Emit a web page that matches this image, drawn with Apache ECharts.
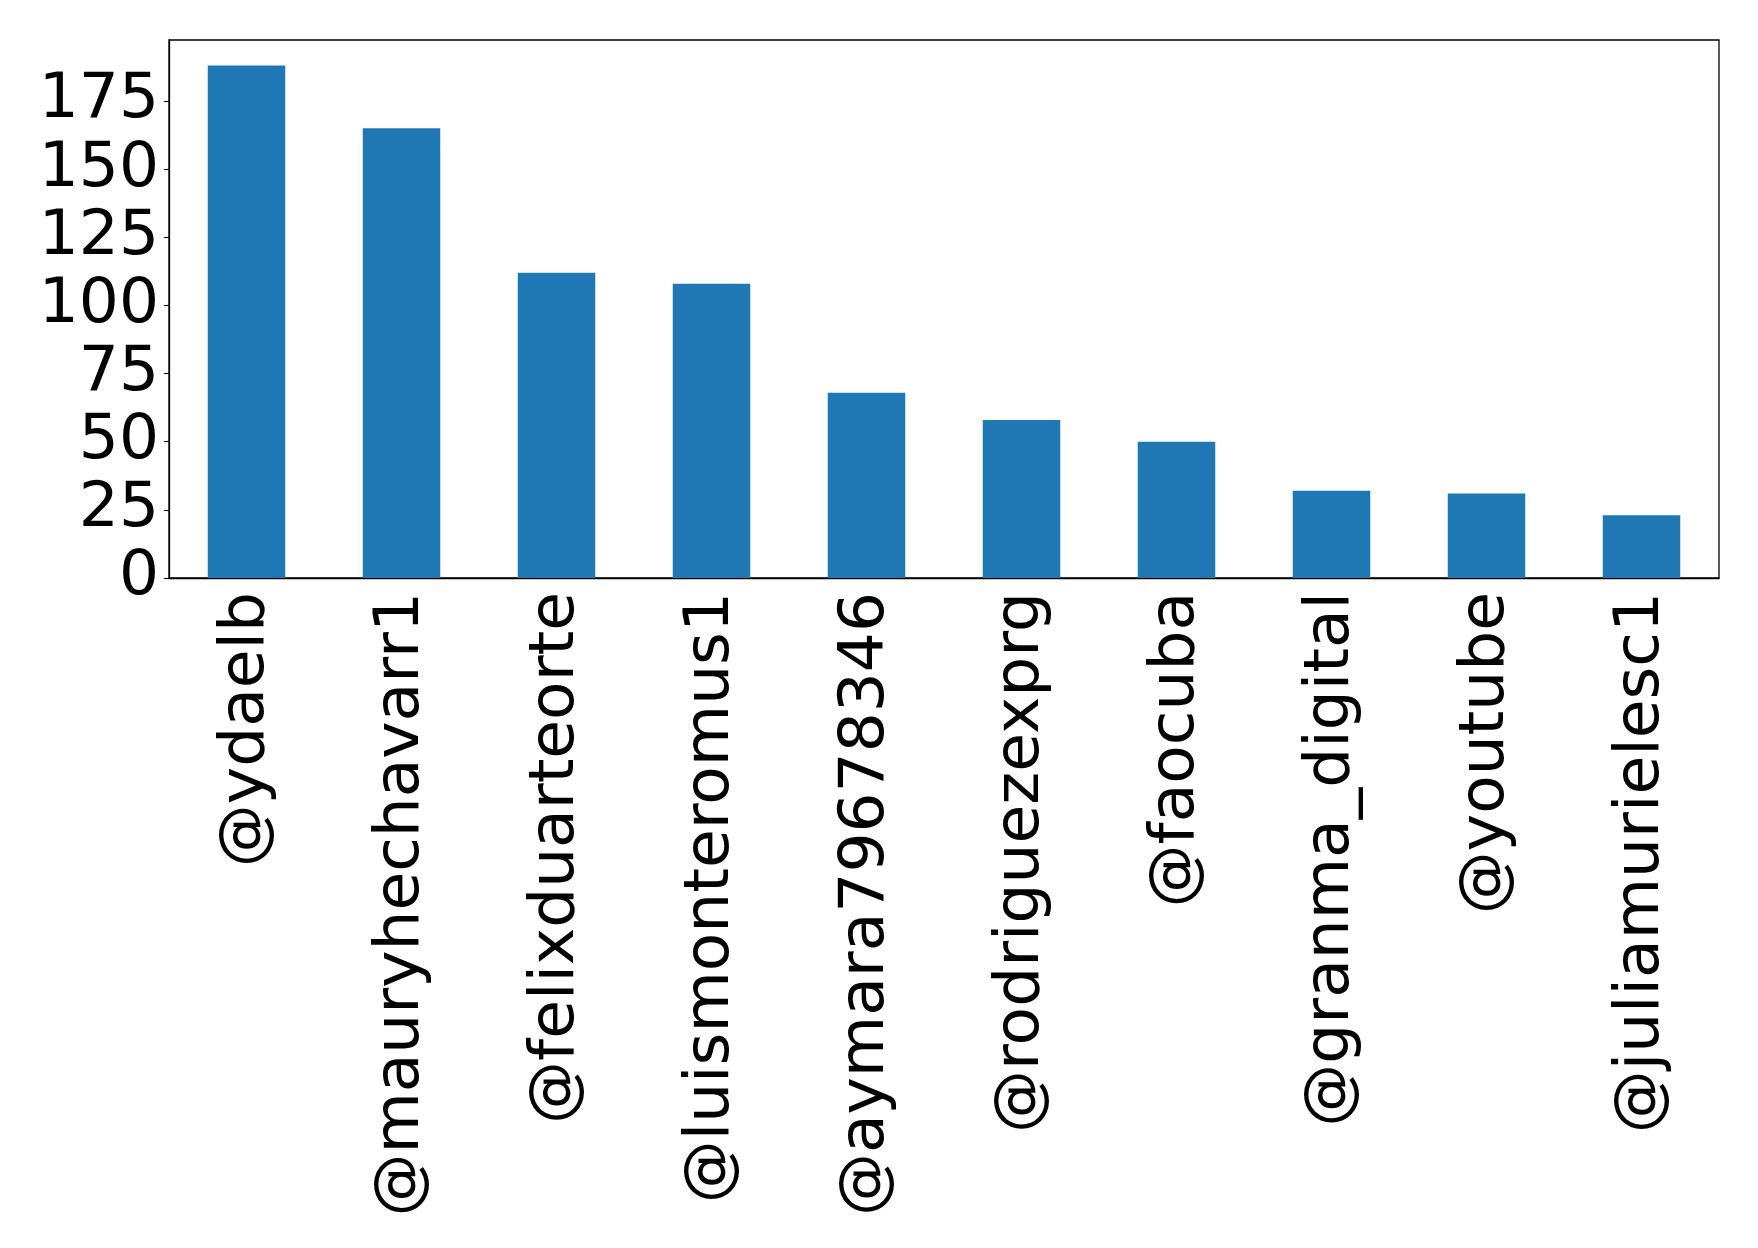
<!DOCTYPE html>
<html>
<head>
<meta charset="utf-8">
<script src="https://cdn.jsdelivr.net/npm/echarts@6/dist/echarts.min.js"></script>
<style>
html,body{margin:0;padding:0;background:#fff;}
#main{width:1758px;height:1248px;}
</style>
</head>
<body>
<div id="main"></div>
<script>
var users = ['@ydaelb', '@mauryhechavarr1', '@felixduarteorte', '@luismonteromus1', '@aymara79678346',
	'@rodriguezexprg', '@faocuba', '@granma_digital', '@youtube', '@juliamurielesc1'];
var counts = [188, 165, 112, 108, 68, 58, 50, 32, 31, 23];
var yTicks = [0, 25, 50, 75, 100, 125, 150, 175];

function init(){
	var myChart = echarts.init(document.getElementById("main"));
	var option = {
		animation: false,
		textStyle: {fontFamily: 'DejaVu Sans'},
		grid: {
			left: 169, right: 39, top: 40, bottom: 670,
			show: true,
			borderColor: '#000',
			borderWidth: 1.3
		},
		xAxis: {
			type: 'category',
			data: users,
			axisLine: {lineStyle: {color: '#000', width: 1.3}},
			axisTick: {alignWithLabel: true, length: 5, lineStyle: {color: '#000', width: 1.1}},
			axisLabel: {
				rotate: 90,
				margin: 14,
				interval: 0,
				color: '#000',
				fontSize: 63,
				fontFamily: 'DejaVu Sans'
			}
		},
		yAxis: {
			type: 'value',
			min: 0,
			max: 197.4,
			interval: 25,
			splitLine: {show: false},
			axisLine: {show: true, lineStyle: {color: '#000', width: 1.3}},
			axisTick: {show: true, length: 5, lineStyle: {color: '#000', width: 1.1}},
			axisLabel: {
				margin: 10,
				color: '#000',
				fontSize: 63,
				fontFamily: 'DejaVu Sans',
				showMaxLabel: false,
				formatter: function(v){
					return yTicks.indexOf(v) >= 0 ? String(v) : '';
				}
			}
		},
		series: [{
			type: 'bar',
			data: counts,
			barWidth: '50%',
			itemStyle: {color: '#1f77b4'}
		}]
	};
	myChart.setOption(option);
}
init();
</script>
</body>
</html>
